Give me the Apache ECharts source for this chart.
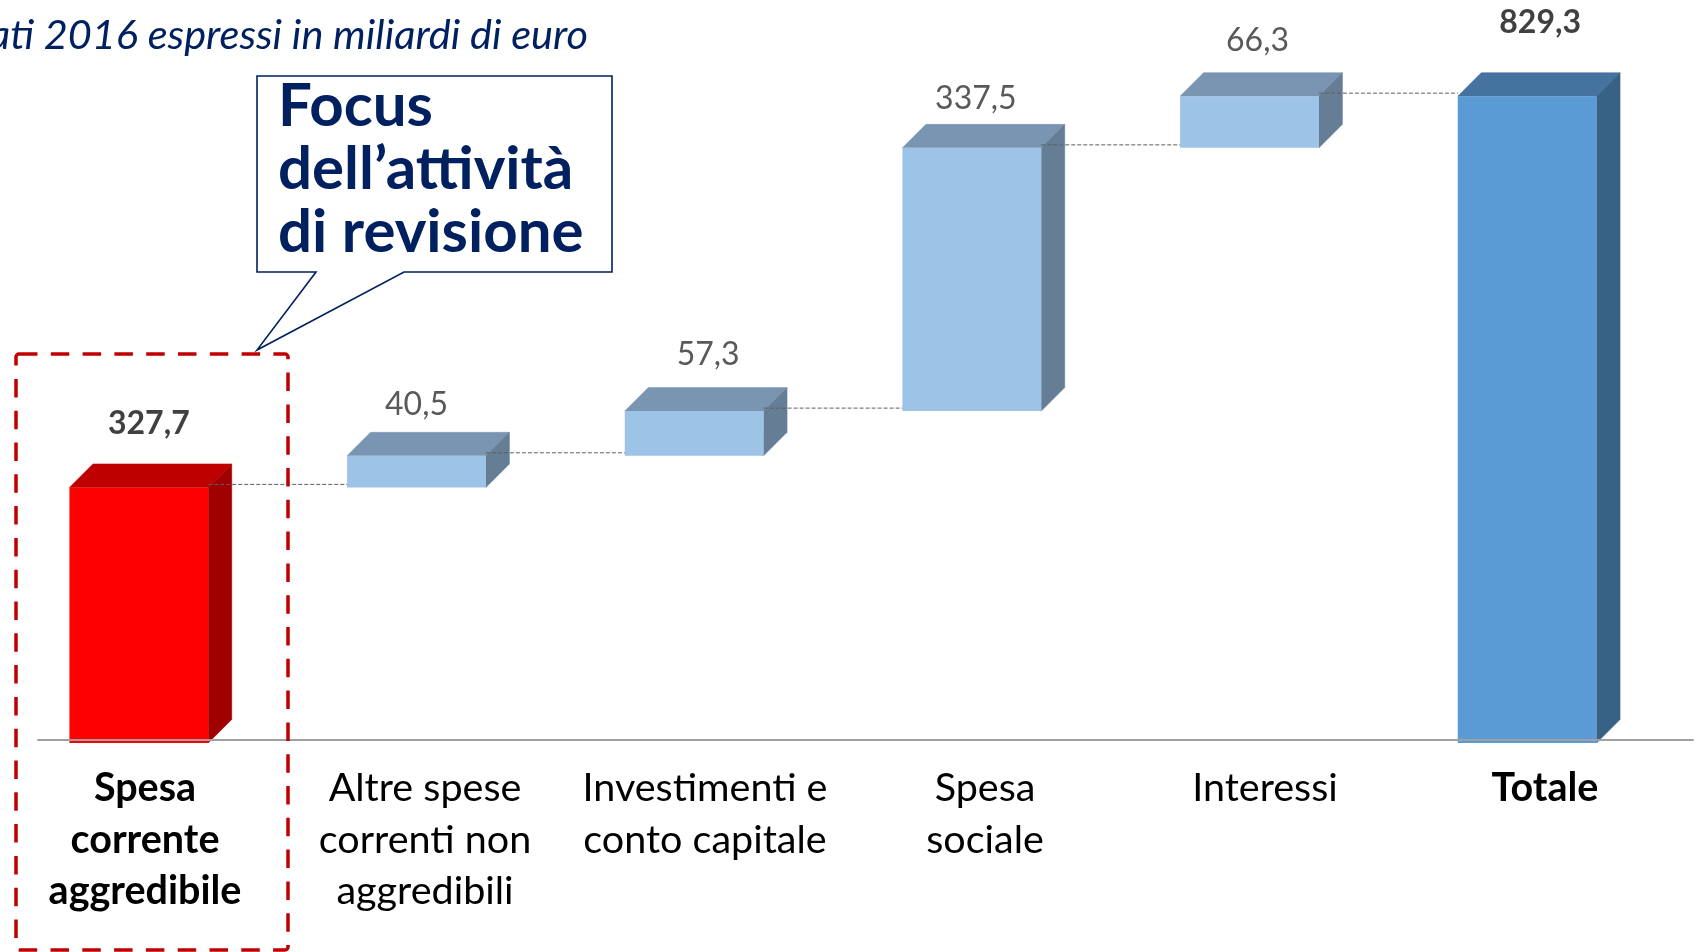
<!DOCTYPE html>
<html><head><meta charset="utf-8">
<style>html,body{margin:0;padding:0;background:#fff}#c{width:1698px;height:952px}</style>
<script src="https://cdn.jsdelivr.net/npm/echarts@6/dist/echarts.min.js"></script>
</head><body><div id="c"></div>
<script>
const categories = ['Spesa\ncorrente\naggredibile','Altre spese\ncorrenti non\naggredibili','Investimenti e\nconto capitale','Spesa\nsociale','Interessi','Totale'];
const values = [327.7, 40.5, 57.3, 337.5, 66.3, 829.3];
const bases  = [0, 327.7, 368.2, 425.5, 763, 0];
const boldFlags = [true,false,false,false,false,true];
const kinds = ['focus','step','step','step','step','total'];
const titleText = 'Dati 2016 espressi in miliardi di euro';
const calloutLines = ['Focus','dell’attività','di revisione'];

const palette = {
  focus:{front:'#FF0000',top:'#BE0000',side:'#A00000'},
  step:{front:'#9DC3E6',top:'#7A95B2',side:'#667D96'},
  total:{front:'#5B9BD5',top:'#44739F',side:'#376286'}
};
const DEPTH = 23.5;
const labelDx = [10,0,14,4,8,13];
const labelDy = [40,28,33,26,32,50];
const AXIS_Y = 740;
const font = 'Lato, Carlito, "Open Sans", sans-serif';
const fmt = v => v.toFixed(1).replace('.', ',');

function poly(points, fill){
  return {type:'polygon', shape:{points}, style:{fill, stroke:fill, lineWidth:0.5}};
}
function renderBar(params, api){
  const i = api.value(0);
  const lo = api.coord([i, api.value(1)]);
  const hi = api.coord([i, api.value(1)+api.value(2)]);
  const w = api.size([1,0])[0]*0.5;
  const x0 = lo[0]-w/2, x1 = lo[0]+w/2, yb = lo[1], yt = hi[1], d = DEPTH;
  const c = palette[kinds[i]];
  return {type:'group', children:[
    poly([[x0,yt],[x1,yt],[x1+d,yt-d],[x0+d,yt-d]], c.top),
    poly([[x1,yt],[x1+d,yt-d],[x1+d,yb-d],[x1,yb]], c.side),
    {type:'rect', shape:{x:x0,y:yt,width:w,height:yb-yt}, style:{fill:c.front}},
    {type:'text', style:{text:fmt(api.value(2)), x:lo[0]+labelDx[i], y:yt-d-labelDy[i],
      align:'center', verticalAlign:'middle',
      font:(boldFlags[i]?'bold ':'')+'32px '+font, fill:boldFlags[i]?'#404040':'#595959'}}
  ]};
}
function renderConnector(params, api){
  const i = api.value(0);
  if(i >= values.length-1) return null;
  const p = api.coord([i, api.value(1)]);
  const q = api.coord([i+1, api.value(1)]);
  const w = api.size([1,0])[0]*0.5;
  return {type:'line', shape:{x1:p[0]+w/2,y1:p[1]-3,x2:q[0]-w/2,y2:q[1]-3},
    style:{stroke:'#5F5F5F',lineWidth:1,lineDash:[4,2]}};
}

const chart = echarts.init(document.getElementById('c'), null, {renderer:'canvas'});
chart.setOption({
  animation:false,
  backgroundColor:'#fff',
  grid:[
    {left:0, width:1666, top:41, height:702},
    {left:5, width:1680, top:600, height:AXIS_Y-600},
    {left:38, width:1655, top:600, height:AXIS_Y-600}
  ],
  xAxis:[
    {type:'category', gridIndex:0, data:categories, axisLine:{show:false}, axisTick:{show:false}, axisLabel:{show:false}},
    {type:'category', gridIndex:1, data:categories.map((c,i)=>({value:c,textStyle:{fontWeight:boldFlags[i]?'bold':'normal'}})),
      axisLine:{show:false}, axisTick:{show:false},
      axisLabel:{interval:0, color:'#000', fontFamily:font, fontSize:39.5, lineHeight:51.4, margin:23, align:'center', verticalAlign:'top'}},
    {type:'category', gridIndex:2, data:categories, z:6, axisLine:{lineStyle:{color:'#A0A0A0',width:2}}, axisTick:{show:false}, axisLabel:{show:false}}
  ],
  yAxis:[
    {type:'value', gridIndex:0, min:0, max:900, show:false},
    {type:'value', gridIndex:1, show:false},
    {type:'value', gridIndex:2, show:false}
  ],
  series:[
    {type:'custom', xAxisIndex:0, yAxisIndex:0, z:2, clip:false, renderItem:renderBar,
      data:values.map((v,i)=>[i,bases[i],v]), encode:{x:0,y:[1,2]}},
    {type:'custom', xAxisIndex:0, yAxisIndex:0, z:4, clip:false, renderItem:renderConnector,
      data:values.map((v,i)=>[i,bases[i]+v]), encode:{x:0,y:1}}
  ],
  graphic:[
    {type:'text', z:20, style:{text:titleText, x:588, y:36, align:'right', verticalAlign:'middle',
      font:'italic 41.5px '+font, fill:'#002060'}},
    {type:'rect', z:18, shape:{x:16,y:354,width:272,height:596,r:3},
      style:{fill:'none',stroke:'#C00000',lineWidth:3.5,lineDash:[18.5,13.3]}},
    {type:'polygon', z:19, shape:{points:[[257,76],[612,76],[612,272],[404,272],[257,350],[316,272],[257,272]]},
      style:{fill:'#fff',stroke:'#002060',lineWidth:1.6}},
    ...calloutLines.map((t,i)=>({type:'text', z:20, style:{text:t, x:278, y:107+i*63, align:'left', verticalAlign:'middle',
      font:'bold 60px '+font, fill:'#002060'}}))
  ]
});
</script></body></html>
